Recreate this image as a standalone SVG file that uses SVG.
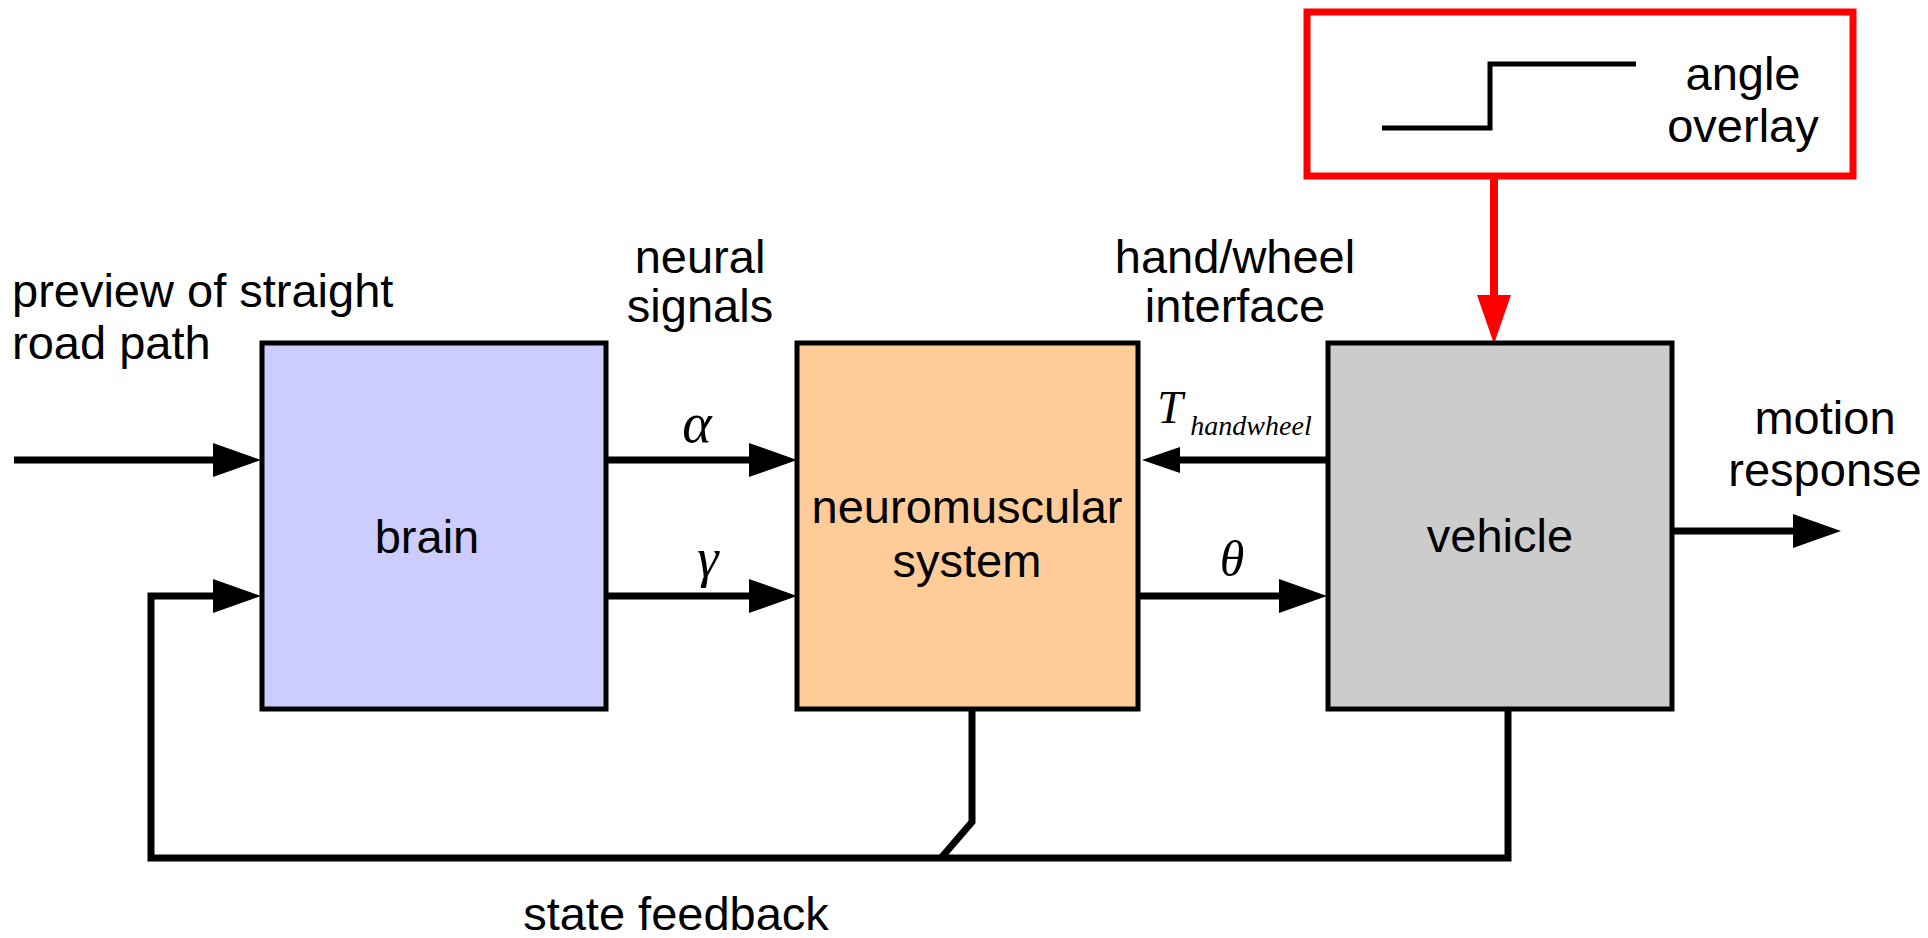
<svg xmlns="http://www.w3.org/2000/svg" width="1928" height="938" viewBox="0 0 1928 938">
  <style>
    .lbl { font-family: "Liberation Sans", Arial, sans-serif; font-size: 47px; fill: #000; }
    .mid { text-anchor: middle; }
    .sym { font-family: "Liberation Serif", "Times New Roman", serif; font-style: italic; fill: #000; text-anchor: middle; }
    .box { stroke: #000; stroke-width: 5; }
    .wire { fill: none; stroke: #000; stroke-width: 7; stroke-linejoin: miter; }
    .red { fill: none; stroke: #ff0000; stroke-width: 8; }
  </style>
  <defs>
    <marker id="arrow" markerUnits="userSpaceOnUse" markerWidth="48" markerHeight="34" refX="0" refY="17" orient="auto" overflow="visible">
      <path d="M0,0 L48,17 L0,34 Z" fill="#000"/>
    </marker>
    <marker id="arrow-small" markerUnits="userSpaceOnUse" markerWidth="38" markerHeight="26" refX="0" refY="13" orient="auto" overflow="visible">
      <path d="M0,0 L38,13 L0,26 Z" fill="#000"/>
    </marker>
    <marker id="arrow-red" markerUnits="userSpaceOnUse" markerWidth="49" markerHeight="34" refX="0" refY="17" orient="auto" overflow="visible">
      <path d="M0,0 L49,17 L0,34 Z" fill="#ff0000"/>
    </marker>
  </defs>

  <rect width="1928" height="938" fill="#fff"/>

  <!-- connectors -->
  <g id="connectors">
    <path class="wire" d="M14,460 H213" marker-end="url(#arrow)"/>
    <path class="wire" d="M606,460 H749" marker-end="url(#arrow)"/>
    <path class="wire" d="M606,596 H749" marker-end="url(#arrow)"/>
    <path class="wire" d="M1327,460 H1180" marker-end="url(#arrow-small)"/>
    <path class="wire" d="M1138,596 H1279" marker-end="url(#arrow)"/>
    <path class="wire" d="M1672,531 H1793" marker-end="url(#arrow)"/>
    <path class="red" d="M1494,176 V295" marker-end="url(#arrow-red)"/>
    <!-- state feedback loop -->
    <path class="wire" d="M972,710 V822 L941,858"/>
    <path class="wire" d="M1508,710 V858 H151 V596 H213" marker-end="url(#arrow)"/>
  </g>

  <!-- external labels -->
  <g id="labels">
    <text class="lbl" x="12" y="307">preview of straight</text>
    <text class="lbl" x="12" y="359">road path</text>
    <text class="lbl mid" x="700" y="273">neural</text>
    <text class="lbl mid" x="700" y="322">signals</text>
    <text class="lbl mid" x="1235" y="273">hand/wheel</text>
    <text class="lbl mid" x="1235" y="322">interface</text>
    <text class="lbl mid" x="1825" y="434">motion</text>
    <text class="lbl mid" x="1825" y="486">response</text>
    <text class="lbl mid" x="676" y="930">state feedback</text>
    <text class="sym" x="697" y="442" font-size="56">α</text>
    <text class="sym" x="708" y="576" font-size="54">γ</text>
    <text class="sym" x="1232" y="576" font-size="50">θ</text>
    <text class="sym" x="1170" y="423" font-size="46">T</text>
    <text class="sym" x="1251" y="435" font-size="28">handwheel</text>
  </g>

  <g id="brain">
    <rect class="box" x="262" y="343" width="344" height="366" fill="#ccccff"/>
    <text class="lbl mid" x="427" y="553">brain</text>
  </g>

  <g id="neuromuscular">
    <rect class="box" x="797" y="343" width="341" height="366" fill="#ffcc99"/>
    <text class="lbl mid" x="967" y="523">neuromuscular</text>
    <text class="lbl mid" x="967" y="577">system</text>
  </g>

  <g id="vehicle">
    <rect class="box" x="1328" y="343" width="344" height="366" fill="#cccccc"/>
    <text class="lbl mid" x="1500" y="552">vehicle</text>
  </g>

  <g id="angle-overlay">
    <rect x="1307" y="12" width="546" height="164" fill="#fff" stroke="#ff0000" stroke-width="7"/>
    <path d="M1382,128 H1490 V64 H1636" fill="none" stroke="#000" stroke-width="5"/>
    <text class="lbl mid" x="1743" y="90">angle</text>
    <text class="lbl mid" x="1743" y="142">overlay</text>
  </g>
</svg>
